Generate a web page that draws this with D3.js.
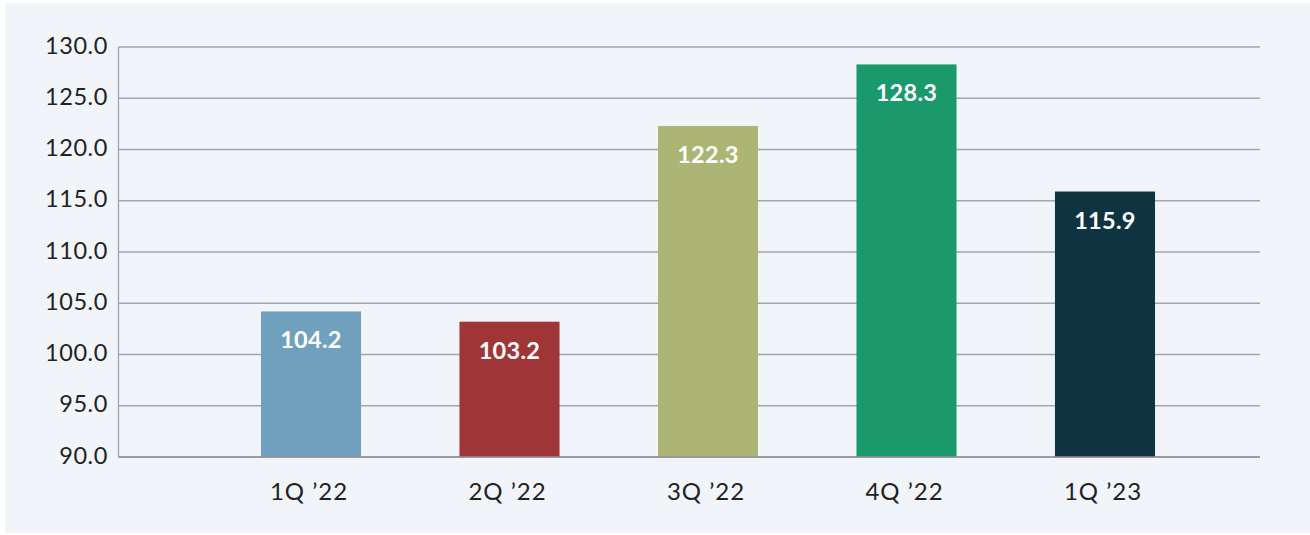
<!DOCTYPE html>
<html>
<head>
<meta charset="utf-8">
<script src="https://cdn.jsdelivr.net/npm/d3@7"></script>
<style>
  html, body { margin: 0; padding: 0; background: #ffffff; }
  svg { display: block; }
  text { font-family: Lato, "Open Sans", sans-serif; }
</style>
</head>
<body>
<svg id="chart" width="1310" height="535"></svg>
<script>
// Quarterly index values
const categories = ["1Q \u201922", "2Q \u201922", "3Q \u201922", "4Q \u201922", "1Q \u201923"];
const values = [104.2, 103.2, 122.3, 128.3, 115.9];
const barColors = ["#6fa1bf", "#9f3536", "#adb574", "#1a9a6c", "#0e3441"];
const yTicks = [90, 95, 100, 105, 110, 115, 120, 125, 130];

const svg = d3.select("#chart");

// panel background
svg.append("rect")
  .attr("x", 5).attr("y", 3)
  .attr("width", 1305).attr("height", 530)
  .attr("fill", "#f1f4f9");

const plotLeft = 118.5, plotRight = 1260;
const y = d3.scaleLinear().domain([90, 130]).range([457, 47]);
const x = d3.scaleBand().domain(categories)
  .range([211.75, 1204.25])
  .paddingInner(0.496).paddingOuter(0.248);

// horizontal gridlines
svg.append("g").selectAll("line")
  .data(yTicks)
  .join("line")
  .attr("x1", plotLeft).attr("x2", plotRight)
  .attr("y1", d => y(d)).attr("y2", d => y(d))
  .attr("stroke", "#a3a6aa")
  .attr("stroke-width", 1.3);

// y axis line
svg.append("line")
  .attr("x1", plotLeft).attr("x2", plotLeft)
  .attr("y1", y(130)).attr("y2", y(90))
  .attr("stroke", "#a3a6aa").attr("stroke-width", 1.3);

// y tick labels
svg.append("g").selectAll("text")
  .data(yTicks)
  .join("text")
  .attr("x", 108)
  .attr("y", d => y(d) + 6.5)
  .attr("text-anchor", "end")
  .attr("font-size", 23.5)
  .attr("letter-spacing", 0.6)
  .attr("fill", "#222222")
  .text(d => d3.format(".1f")(d));

// bars
svg.append("g").selectAll("rect")
  .data(values)
  .join("rect")
  .attr("x", (d, i) => x(categories[i]))
  .attr("width", x.bandwidth())
  .attr("y", d => y(d))
  .attr("height", d => y(90) - y(d))
  .attr("fill", (d, i) => barColors[i]);

// x baseline
svg.append("line")
  .attr("x1", plotLeft).attr("x2", plotRight)
  .attr("y1", y(90)).attr("y2", y(90))
  .attr("stroke", "#8f9296").attr("stroke-width", 1.3);

// value labels inside bars
svg.append("g").selectAll("text")
  .data(values)
  .join("text")
  .attr("x", (d, i) => x(categories[i]) + x.bandwidth() / 2)
  .attr("y", d => y(d) + 37)
  .attr("text-anchor", "middle")
  .attr("font-size", 23.5)
  .attr("font-weight", 700)
  .attr("letter-spacing", 0.3)
  .attr("fill", "#ffffff")
  .text(d => d3.format(".1f")(d));

// category labels
svg.append("g").selectAll("text")
  .data(categories)
  .join("text")
  .attr("x", d => x(d) + x.bandwidth() / 2 - 2)
  .attr("y", 500)
  .attr("text-anchor", "middle")
  .attr("font-size", 24)
  .attr("letter-spacing", 1)
  .attr("fill", "#222222")
  .text(d => d);
</script>
</body>
</html>
